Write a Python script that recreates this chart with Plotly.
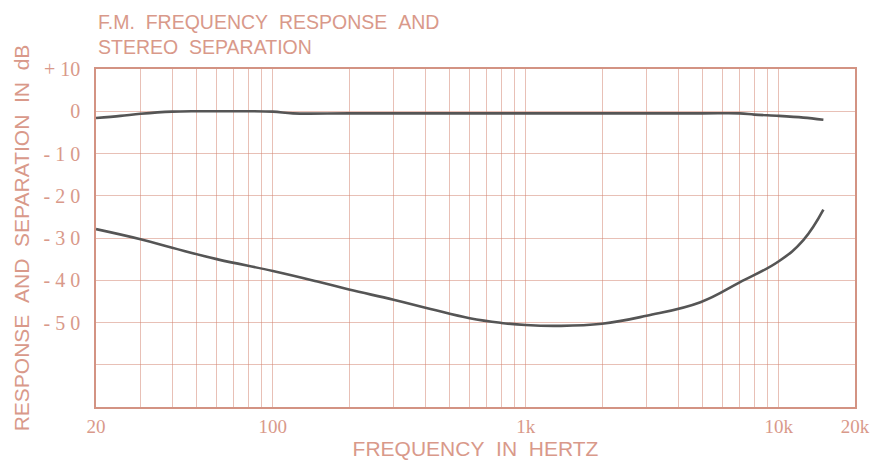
import plotly.graph_objects as go

# Frequency response (dB)
resp_freq = [20, 25, 30, 40, 50, 70, 100, 120, 200, 500, 1000, 2000, 5000, 7000, 8000, 10000, 12500, 15000]
resp_db = [-1.6, -1.1, -0.6, -0.1, 0.0, 0.0, -0.1, -0.5, -0.5, -0.5, -0.5, -0.5, -0.5, -0.5, -0.8, -1.1, -1.5, -2.0]

# Stereo separation (dB)
sep_freq = [20, 30, 40, 60, 100, 150, 200, 300, 420, 600, 800, 1000, 1330, 2000, 3000, 4900, 7000, 10000, 12500, 15000]
sep_db = [-27.9, -30.3, -32.3, -35.0, -37.8, -40.3, -42.2, -44.6, -46.8, -49.0, -50.1, -50.6, -50.8, -50.3, -48.4, -45.2, -40.5, -35.5, -30.5, -23.3]

x_tickvals = [20, 100, 1000, 10000, 20000]
x_ticktext = ["20", "100", "1k", "10k", "20k"]
y_tickvals = [10, 0, -10, -20, -30, -40, -50, -60]
y_ticktext = ["+ 10", "0", "- 1 0", "- 2 0", "- 3 0", "- 4 0", "- 5 0", ""]

TXT = "#d9998a"
GRID = "rgba(210,130,110,0.5)"
NB = "\u00a0"

fig = go.Figure()
fig.add_trace(go.Scatter(x=resp_freq, y=resp_db, mode="lines",
                         line=dict(color="#555555", width=2.6, shape="spline", smoothing=1.0), showlegend=False))
fig.add_trace(go.Scatter(x=sep_freq, y=sep_db, mode="lines",
                         line=dict(color="#555555", width=2.6, shape="spline", smoothing=1.2), showlegend=False))

minor_vals = [m * d for d in (10, 100, 1000, 10000) for m in range(2, 10) if 20 < m * d < 20000]

fig.update_layout(
    width=883, height=462,
    margin=dict(l=96, r=28, t=69, b=55, autoexpand=False),
    paper_bgcolor="white", plot_bgcolor="white",
    font=dict(family="Liberation Sans, Arial, sans-serif", color=TXT),
    title=dict(text=f"F.M.{NB}{NB}FREQUENCY{NB}{NB}RESPONSE{NB}{NB}AND<br>STEREO{NB}{NB}SEPARATION",
               x=98 / 883, xanchor="left", xref="container", yref="container", y=1 - 29 / 462, yanchor="top",
               automargin=False,
               font=dict(size=19.5, color=TXT, family="Liberation Sans, Arial, sans-serif")),
)
fig.update_xaxes(
    type="log", range=[1.30103, 4.30103], automargin=False,
    tickmode="array", tickvals=x_tickvals, ticktext=x_ticktext,
    tickfont=dict(family="Liberation Serif, Times New Roman, serif", size=19, color=TXT),
    showgrid=True, gridcolor=GRID, gridwidth=1,
    minor=dict(tickmode="array", tickvals=minor_vals, showgrid=True, gridcolor=GRID, gridwidth=1, ticks=""),
    showline=True, linecolor="rgba(200,120,100,0.8)", linewidth=1.5, mirror=True,
    ticks="", ticklabelstandoff=1,
    title=dict(text=f"FREQUENCY{NB}{NB}IN{NB}{NB}HERTZ", font=dict(size=21, color=TXT), standoff=6),
    zeroline=False,
)
fig.update_yaxes(
    range=[-70, 10], automargin=False,
    tickmode="array", tickvals=y_tickvals, ticktext=y_ticktext,
    tickfont=dict(family="Liberation Serif, Times New Roman, serif", size=20, color=TXT),
    showgrid=True, gridcolor=GRID, gridwidth=1,
    showline=True, linecolor="rgba(200,120,100,0.8)", linewidth=1.5, mirror=True,
    ticks="", ticklabelstandoff=10,
    title=dict(text=f"RESPONSE{NB}{NB}AND{NB}{NB}SEPARATION{NB}{NB}IN{NB}{NB}dB", font=dict(size=21, color=TXT), standoff=8),
    zeroline=False,
)

fig.write_html("out.html", config={"displayModeBar": False},
               post_script="document.body.style.margin='0';document.body.style.overflow='hidden';")
